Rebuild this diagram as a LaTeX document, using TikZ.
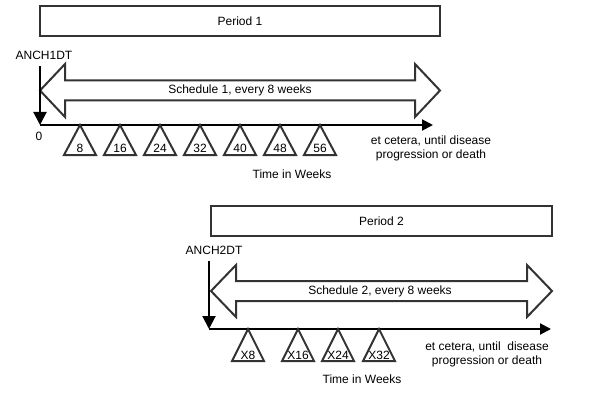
\documentclass[tikz,border=0pt]{standalone}
\usepackage{fontspec}
\setmainfont{Liberation Sans}
\usetikzlibrary{positioning,calc,arrows.meta}

\tikzset{
    txt/.style={font=\fontsize{12}{14}\selectfont, inner sep=0pt},
    periodbox/.style={txt, draw=black!80, line width=2pt, minimum height=30pt},
    schedarrow/.style={draw=black!80, line width=2pt, fill=white, line join=miter},
    visit/.style={draw=black!80, line width=2pt, line join=miter},
    timeline/.style={line width=2pt, -{Triangle[length=11pt,width=11pt]}},
    anchor arrow/.style={line width=2pt, -{Triangle[length=13pt,width=13pt]}},
}

\begin{document}
\begin{tikzpicture}[x=1pt, y=-1pt]
    \useasboundingbox (0,0) rectangle (601,406);

    % Period 1
    \begin{scope}[shift={(40,125)}]
        \node [periodbox, minimum width=400pt] (period1) at (200,-104) {Period 1};
        \node [txt] (anch1) at (4,-70) {ANCH1DT};
        \coordinate (t1) at (0,0);
        \coordinate (end1) at (393,0);
        % schedule arrow
        \draw [schedarrow] (0,-34.5) -- ++(25,-26.5) -- ++(0,16.5) -- (375,-44.5) -- ++(0,-16.5)
            -- (400,-34.5) -- ++(-25,26.5) -- ++(0,-16.5) -- (25,-24.5) -- ++(0,16.5) -- cycle;
        \node [txt] (sched1) at (200,-34.5) {Schedule 1, every 8 weeks};
        \draw [anchor arrow] (t1 |- anch1.south) ++(0,7) -- (t1);
        \draw [timeline] (t1) -- (end1);
        \node [txt] (zero1) at (-1,11) {0};
        \foreach \w [count=\i] in {8,16,...,56} {
            \draw [visit] (40*\i,0) -- ++(16,30) -- ++(-32,0) -- cycle;
            \node [txt] (w\i) at (40*\i,23) {\w};
        }
        \node [txt] (time1) at (252,49) {Time in Weeks};
        \node [txt, align=center] (etc1) at (391,23.5) {et cetera, until disease\\progression or death};
    \end{scope}

    % Period 2
    \begin{scope}[shift={(209,329)}]
        \node [periodbox, minimum width=341pt] (period2) at (172.5,-108) {Period 2};
        \node [txt] (anch2) at (5,-79) {ANCH2DT};
        \coordinate (t2) at (0,0);
        \coordinate (end2) at (342,0);
        % schedule arrow
        \draw [schedarrow] (2,-38) -- ++(25,-26) -- ++(0,16) -- (318,-48) -- ++(0,-16)
            -- (343,-38) -- ++(-25,26) -- ++(0,-16) -- (27,-28) -- ++(0,16) -- cycle;
        \node [txt] (sched2) at (171,-38) {Schedule 2, every 8 weeks};
        \draw [anchor arrow] (t2 |- anch2.south) ++(0,7) -- (t2);
        \draw [timeline] (t2) -- (end2);
        \foreach \x/\w in {39/X8, 89/X16, 129/X24, 170/X32} {
            \draw [visit] (\x,0) -- ++(16,32) -- ++(-32,0) -- cycle;
            \node [txt] (\w) at (\x,26) {\w};
        }
        \node [txt] (time2) at (153,50) {Time in Weeks};
        \node [txt, align=center] (etc2) at (278,25) {et cetera, until~ disease\\progression or death};
    \end{scope}
\end{tikzpicture}
\end{document}
